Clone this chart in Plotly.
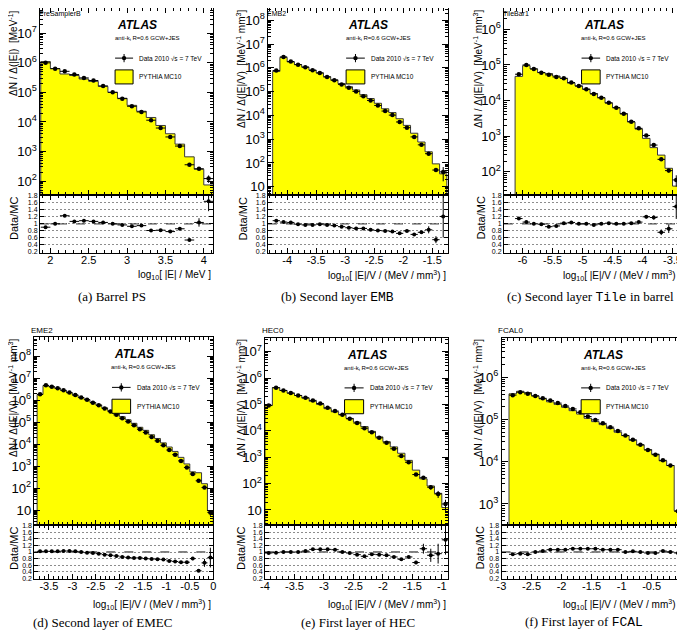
import numpy as np
import plotly.graph_objects as go

# The page body keeps its default 8 px margin, so the figure is drawn 8 px in from the corner.
OFF = 8
W, H = 685 - OFF, 633 - OFF

# ---------------- data ----------------
panel_names = ["PreSamplerB", "EMB2", "TileBar1", "EME2", "HEC0", "FCAL0"]
captions = [
    "(a) Barrel PS",
    "(b) Second layer <span style='font-family:Liberation Mono'>EMB</span>",
    "(c) Second layer <span style='font-family:Liberation Mono'>Tile</span> in barrel",
    "(d) Second layer of EMEC",
    "(e) First layer of HEC",
    "(f) First layer of <span style='font-family:Liberation Mono'>FCAL</span>",
]
ytitle_E = "ΔN / Δ(|E|)  [MeV<sup>-1</sup>]"
ytitle_EV = "ΔN / Δ(|E|/V)  [MeV<sup>-1</sup> mm<sup>3</sup>]"
xtitle_E = "log<sub>10</sub>[ |E| / MeV ]"
xtitle_EV = "log<sub>10</sub>[ |E|/V / (MeV / mm<sup>3</sup>) ]"

# first bin low edge and bin width of each histogram
bin_lo = [1.875, -4.25, -6.125, -3.75, -4.0, -2.875]
bin_w = [0.125, 0.125, 0.125, 0.125, 0.125, 0.125]

# MC (PYTHIA MC10) bin contents, as log10 values
a_mc_log10 = [6.04, 5.80, 5.62, 5.57, 5.45, 5.37, 5.20, 5.00, 4.80, 4.56, 4.36, 4.15,
              3.88, 3.60, 3.25, 2.82, 2.40, 1.87]
b_mc_log10 = [5.85, 6.44, 6.25, 6.14, 6.04, 5.91, 5.79, 5.63, 5.50, 5.34, 5.21, 5.07,
              4.87, 4.71, 4.51, 4.28, 4.12, 3.86, 3.58, 3.25, 2.88, 2.47, 1.96, 1.54]
c_mc_log10 = [4.68, 4.98, 4.89, 4.79, 4.76, 4.69, 4.62, 4.49, 4.41, 4.32, 4.20, 4.08,
              3.93, 3.80, 3.63, 3.40, 3.20, 2.94, 2.68, 2.47, 2.10, 1.60]
d_mc_log10 = [6.26, 6.67, 6.61, 6.54, 6.44, 6.34, 6.23, 6.12, 6.03, 5.90, 5.79, 5.66,
              5.53, 5.39, 5.25, 5.11, 4.95, 4.77, 4.63, 4.43, 4.26, 4.06, 3.87, 3.67,
              3.40, 3.10, 2.74, 2.70, 2.20, 0.97]
e_mc_log10 = [4.97, 5.64, 5.53, 5.43, 5.34, 5.24, 5.12, 5.00, 4.84, 4.72, 4.61, 4.47,
              4.33, 4.16, 3.98, 3.77, 3.59, 3.39, 3.15, 2.88, 2.51, 2.18, 1.91, 1.63, 1.09]
f_mc_log10 = [5.61, 5.67, 5.64, 5.56, 5.49, 5.42, 5.36, 5.29, 5.21, 5.13, 5.03, 4.95,
              4.88, 4.79, 4.70, 4.62, 4.51, 4.40, 4.29, 4.18, 4.02, 3.91, 2.84]

# Data / MC ratio and its uncertainty
a_ratio = [0.905, 1.0, 1.23, 1.07, 1.09, 1.07, 1.04, 1.0, 0.97, 0.93, 0.95, 0.81,
           0.82, 0.78, 0.86, 0.54, 1.04, 1.64]
a_ratio_err = [0.01, 0.01, 0.01, 0.01, 0.01, 0.01, 0.01, 0.01, 0.01, 0.01, 0.01, 0.015,
               0.015, 0.02, 0.02, 0.03, 0.12, 0.28]
b_ratio = [1.09, 1.05, 1.04, 0.99, 0.97, 0.97, 0.99, 0.97, 0.95, 0.92, 0.89, 0.87,
           0.87, 0.83, 0.81, 0.80, 0.78, 0.73, 0.80, 0.70, 0.76, 0.83, 0.55, 1.21]
b_ratio_err = [0.01, 0.01, 0.01, 0.01, 0.01, 0.01, 0.01, 0.01, 0.01, 0.01, 0.01, 0.01,
               0.01, 0.01, 0.01, 0.015, 0.015, 0.02, 0.03, 0.03, 0.04, 0.1, 0.1, 0.6]
c_ratio = [1.15, 1.05, 1.0, 0.99, 0.92, 0.94, 1.02, 1.04, 1.0, 1.0, 0.97, 1.0,
           1.02, 1.0, 1.0, 1.02, 1.05, 1.2, 1.18, 0.76, 0.86, 1.49]
c_ratio_err = [0.01, 0.01, 0.01, 0.01, 0.01, 0.01, 0.01, 0.01, 0.01, 0.01, 0.01, 0.01,
               0.01, 0.01, 0.01, 0.01, 0.015, 0.05, 0.06, 0.08, 0.12, 0.35]
d_ratio = [1.02, 1.02, 1.02, 1.02, 1.03, 1.03, 1.02, 1.0, 0.98, 0.97, 0.95, 0.92,
           0.90, 0.88, 0.85, 0.83, 0.82, 0.82, 0.80, 0.79, 0.78, 0.77, 0.73, 0.71,
           0.69, 0.69, 0.80, 0.43, 0.67, 0.83]
d_ratio_err = [0.01] * 26 + [0.05, 0.03, 0.12, 0.3]
e_ratio = [0.97, 0.98, 1.0, 1.0, 1.0, 1.03, 1.08, 1.08, 1.08, 1.07, 1.0, 0.97,
           0.92, 0.87, 0.93, 0.92, 0.9, 0.85, 0.78, 0.85, 0.68, 1.1, 0.9, 0.95, 1.37]
e_ratio_err = [0.01] * 18 + [0.02, 0.03, 0.05, 0.15, 0.2, 0.3, 0.45]
f_ratio = [0.93, 0.95, 0.93, 1.0, 1.03, 1.07, 1.07, 1.07, 1.1, 1.1, 1.1, 1.1,
           1.07, 1.07, 1.07, 1.0, 1.02, 1.0, 0.97, 0.97, 1.03, 1.0, 0.97]
f_ratio_err = [0.01] * 22 + [0.03]

mc_all = [a_mc_log10, b_mc_log10, c_mc_log10, d_mc_log10, e_mc_log10, f_mc_log10]
ratio_all = [a_ratio, b_ratio, c_ratio, d_ratio, e_ratio, f_ratio]
rerr_all = [a_ratio_err, b_ratio_err, c_ratio_err, d_ratio_err, e_ratio_err, f_ratio_err]

# ---------------- layout settings (page pixels) ----------------
# frame boxes: (left, right, top, main/ratio split, bottom)
boxes = [(40, 213, 8, 195, 252.7), (268, 448, 8, 195, 252.7), (504, 682.7, 8, 195, 252.7),
         (34.3, 213.3, 337, 525, 579), (265, 448.3, 337.7, 525, 579), (501.5, 685, 337.7, 525, 579)]
x_ranges = [[1.865, 4.12], [-4.33, -1.23], [-6.31, -3.33], [-3.81, 0.0], [-4.0, -0.89], [-3.0, 0.055]]
y_ranges = [[1.53, 7.85], [0.65, 8.52], [1.35, 6.60], [0.32, 8.88], [0.43, 7.53], [2.5, 6.94]]
ytitles = [ytitle_E] + [ytitle_EV] * 5
xtitles = [xtitle_E] + [xtitle_EV] * 5
ytitle_px = [13, 241, 478, 13, 240.5, 477.5]
ratio_title_px = [13.5, 242, 480, 13.5, 240.5, 479]
caption_px = [112, 337, 590, 103, 358, 584]
caption_y = [297, 297, 297, 622, 622, 622]
xtitle_y = [275, 275, 275, 604, 604, 604]

FONT = "Liberation Sans"
YELLOW = "#ffff00"


def px2x(px):
    return min(1.0, max(0.0, (px - OFF) / W))


def px2y(py):
    return min(1.0, max(0.0, 1 - (py - OFF) / H))


def sfx(k):
    return "" if k == 1 else str(k)


fig = go.Figure()
layout = dict(width=W, height=H, margin=dict(l=0, r=0, t=0, b=0, autoexpand=False),
              paper_bgcolor="white", plot_bgcolor="white", showlegend=False)
shapes = []
annotations = []

axis_common = dict(showline=True, linecolor="black", linewidth=1, mirror="ticks",
                   ticks="inside", tickcolor="black", showgrid=False, zeroline=False,
                   ticklabeloverflow="allow",
                   tickfont=dict(family=FONT, size=11, color="black"))

for i in range(6):
    km, kr = sfx(2 * i + 1), sfx(2 * i + 2)
    x0, x1, top, mid, bot = boxes[i]
    lo, w = bin_lo[i], bin_w[i]
    mc = 10 ** np.array(mc_all[i])
    r = np.array(ratio_all[i])
    re = np.array(rerr_all[i])
    n = len(mc)
    edges = lo + w * np.arange(n + 1)
    centers = 0.5 * (edges[:-1] + edges[1:])
    data = mc * r

    # MC step histogram as a closed filled outline
    base = 10 ** (y_ranges[i][0] - 2)
    hx = [edges[0]]
    hy = [base]
    for j in range(n):
        hx += [edges[j], edges[j + 1]]
        hy += [mc[j], mc[j]]
    hx += [edges[-1]]
    hy += [base]
    fig.add_trace(go.Scatter(x=hx, y=hy, mode="lines", fill="toself", fillcolor=YELLOW,
                             line=dict(color="#3a3a3a", width=1),
                             xaxis=f"x{km}", yaxis=f"y{km}", hoverinfo="skip"))
    # data points (main)
    fig.add_trace(go.Scatter(x=centers, y=data, mode="markers",
                             marker=dict(color="black", size=4.5),
                             error_x=dict(type="constant", value=w / 2, color="black", thickness=1, width=0),
                             error_y=dict(type="data", array=data * re, color="black", thickness=1, width=0),
                             xaxis=f"x{km}", yaxis=f"y{km}"))
    # ratio points
    fig.add_trace(go.Scatter(x=centers, y=r, mode="markers",
                             marker=dict(color="black", size=4),
                             error_x=dict(type="constant", value=w / 2, color="black", thickness=1, width=0),
                             error_y=dict(type="data", array=re, color="black", thickness=1, width=0),
                             xaxis=f"x{kr}", yaxis=f"y{kr}"))

    xr = x_ranges[i]
    tv = np.arange(np.ceil(xr[0] / 0.5 - 1e-9) * 0.5, xr[1] + 1e-9, 0.5)
    tt = ["%g" % (0.0 if abs(v) < 1e-9 else v) for v in tv]

    layout[f"xaxis{km}"] = dict(axis_common, domain=[px2x(x0), px2x(x1)], anchor=f"y{km}",
                                range=xr, showticklabels=False, tickvals=list(tv), ticklen=5,
                                minor=dict(ticks="inside", dtick=0.1, tick0=0, ticklen=3, tickcolor="black"))
    layout[f"yaxis{km}"] = dict(axis_common, domain=[px2y(mid), px2y(top)], anchor=f"x{km}",
                                type="log", range=y_ranges[i], dtick=1, exponentformat="power",
                                ticklen=6, tickfont=dict(family=FONT, size=10.5, color="black"),
                                minor=dict(ticks="inside", ticklen=3, tickcolor="black"))
    layout[f"xaxis{kr}"] = dict(axis_common, domain=[px2x(x0), px2x(x1)], anchor=f"y{kr}",
                                range=xr, tickvals=list(tv), ticktext=tt, ticklen=5,
                                ticklabelstandoff=-3,
                                minor=dict(ticks="inside", dtick=0.1, tick0=0, ticklen=3, tickcolor="black"))
    layout[f"yaxis{kr}"] = dict(axis_common, domain=[px2y(bot), px2y(mid)], anchor=f"x{kr}",
                                range=[0.18, 1.82], dtick=0.2, tick0=0, ticklen=4,
                                tickfont=dict(family=FONT, size=7, color="black"),
                                showgrid=True, gridcolor="#8c8c8c", griddash="2px,2px", gridwidth=0.6)

    # dashed line at ratio 1
    shapes.append(dict(type="line", xref=f"x{kr} domain", yref=f"y{kr}", x0=0, x1=1, y0=1, y1=1,
                       line=dict(color="black", width=1, dash="dash"), layer="below"))

    # legend
    xd, yd = f"x{km} domain", f"y{km} domain"
    shapes.append(dict(type="line", xref=xd, yref=yd, x0=0.434, x1=0.538, y0=0.732, y1=0.732,
                       line=dict(color="black", width=1)))
    shapes.append(dict(type="line", xref=xd, yref=yd, x0=0.486, x1=0.486, y0=0.71, y1=0.754,
                       line=dict(color="black", width=1)))
    shapes.append(dict(type="circle", xref=xd, yref=yd, xsizemode="pixel", ysizemode="pixel",
                       xanchor=0.486, yanchor=0.732, x0=-2.2, x1=2.2, y0=-2.2, y1=2.2,
                       fillcolor="black", line=dict(color="black", width=0)))
    shapes.append(dict(type="rect", xref=xd, yref=yd, x0=0.434, x1=0.538, y0=0.594, y1=0.669,
                       fillcolor=YELLOW, line=dict(color="black", width=1)))
    annotations += [
        dict(xref=xd, yref=yd, x=0.434, y=0.91, text="<b><i>ATLAS</i></b>", showarrow=False,
             xanchor="left", yanchor="middle", font=dict(family=FONT, size=12, color="black")),
        dict(xref=xd, yref=yd, x=0.42, y=0.837, text="anti-k<sub>t</sub> R=0.6 GCW+JES", showarrow=False,
             xanchor="left", yanchor="middle", font=dict(family=FONT, size=6, color="black")),
        dict(xref=xd, yref=yd, x=0.56, y=0.732, text="Data 2010 √s = 7 TeV", showarrow=False,
             xanchor="left", yanchor="middle", font=dict(family=FONT, size=6.5, color="black")),
        dict(xref=xd, yref=yd, x=0.56, y=0.632, text="PYTHIA MC10", showarrow=False,
             xanchor="left", yanchor="middle", font=dict(family=FONT, size=6.5, color="black")),
    ]
    # panel name (top row sits against the page edge)
    upper = top < 100
    annotations.append(dict(xref="paper", yref="paper", x=px2x(x0 - 5 if not upper else x0 - 3),
                            y=1.0 if upper else px2y(top - 0.5),
                            text=panel_names[i], showarrow=False, xanchor="left",
                            yanchor="top" if upper else "bottom",
                            font=dict(family=FONT, size=7 if upper else 8, color="black")))
    # y titles
    annotations.append(dict(xref="paper", yref="paper", x=px2x(ytitle_px[i]), y=px2y(top),
                            text=ytitles[i], textangle=-90, showarrow=False,
                            xanchor="center", yanchor="top", font=dict(family=FONT, size=10, color="black")))
    annotations.append(dict(xref="paper", yref="paper", x=px2x(ratio_title_px[i]), y=px2y(mid),
                            text="Data/MC", textangle=-90, showarrow=False,
                            xanchor="center", yanchor="top", font=dict(family=FONT, size=11, color="black")))
    # x title
    annotations.append(dict(xref="paper", yref="paper", x=px2x(min(x1, 683)), y=px2y(xtitle_y[i]),
                            text=xtitles[i], showarrow=False, xanchor="right", yanchor="middle",
                            font=dict(family=FONT, size=10, color="black")))
    # caption
    annotations.append(dict(xref="paper", yref="paper", x=px2x(caption_px[i]), y=px2y(caption_y[i]),
                            text=captions[i], showarrow=False, xanchor="center", yanchor="middle",
                            font=dict(family="Liberation Serif", size=13, color="black")))

layout["shapes"] = shapes
layout["annotations"] = annotations
fig.update_layout(**layout)
fig.write_html("out.html")
